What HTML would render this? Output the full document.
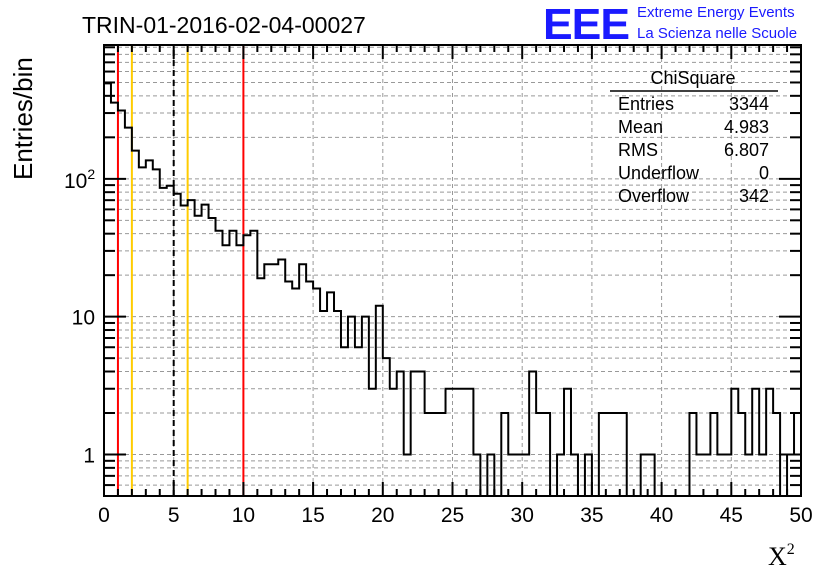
<!DOCTYPE html>
<html><head><meta charset="utf-8"><style>
body{margin:0;background:#fff;}
svg{display:block;font-family:"Liberation Sans",sans-serif;}
</style></head><body>
<svg id="chart" width="836" height="572" viewBox="0 0 836 572" xmlns="http://www.w3.org/2000/svg">
<rect x="0" y="0" width="836" height="572" fill="#fff"/>
<g id="grid"></g>
<g id="marks"></g>
<g id="hist"></g>
<g id="axes"></g>
<text x="82" y="33" font-size="23">TRIN-01-2016-02-04-00027</text>
<text x="543" y="39" font-size="44" font-weight="bold" fill="#1a1aff" letter-spacing="-1" textLength="86" lengthAdjust="spacingAndGlyphs">EEE</text>
<text x="637" y="17" font-size="15" fill="#1a1aff">Extreme Energy Events</text>
<text x="637" y="38" font-size="15" fill="#1a1aff">La Scienza nelle Scuole</text>
<text transform="translate(32,180) rotate(-90)" font-size="26">Entries/bin</text>
<text x="768" y="565" font-size="26" font-family="Liberation Serif,serif">X<tspan font-size="16" dy="-11">2</tspan></text>
<g font-size="18">
<text x="693" y="84" text-anchor="middle">ChiSquare</text>
<line x1="610" y1="91" x2="778" y2="91" stroke="#000" stroke-width="1.5"/>
<text x="618" y="110">Entries</text><text x="769" y="110" text-anchor="end">3344</text>
<text x="618" y="133">Mean</text><text x="769" y="133" text-anchor="end">4.983</text>
<text x="618" y="156">RMS</text><text x="769" y="156" text-anchor="end">6.807</text>
<text x="618" y="179">Underflow</text><text x="769" y="179" text-anchor="end">0</text>
<text x="618" y="202">Overflow</text><text x="769" y="202" text-anchor="end">342</text>
</g>
</svg>
<script>
const counts=[492,357,313,235,160,121,136,117,86,89,78,64,70,54,65,52,42,33,42,33,39,42,19,24,24,26,18,16,24,18,16,11,15,11,6,10,6,10,3,12,5,3,4,1,4,4,2,2,2,3,3,3,3,1,0,1,0,2,1,1,1,4,2,2,0,1,3,1,0,1,0,2,2,2,2,0,0,1,1,0,0,0,0,0,2,1,1,2,1,1,3,2,1,3,1,3,2,0,1,2];
const binWidth=0.5;
const xTicks=[0,5,10,15,20,25,30,35,40,45,50];
const markerX=[1,2,5,6,10];
const markerColor=["#ff0000","#ffcc00","#000","#ffcc00","#ff0000"];
const X0=104,X1=801,Y0=496,Y1=45,XMIN=0,XMAX=50,YMIN=0.5,YMAX=935;
const sx=v=>X0+(v-XMIN)/(XMAX-XMIN)*(X1-X0);
const sy=v=>Y0-(Math.log10(Math.max(v,YMIN))-Math.log10(YMIN))/(Math.log10(YMAX)-Math.log10(YMIN))*(Y0-Y1);
const NS="http://www.w3.org/2000/svg";
function mk(t,a,p){const e=document.createElementNS(NS,t);for(const k in a)e.setAttribute(k,a[k]);p.appendChild(e);return e;}
const grid=document.getElementById('grid'),axes=document.getElementById('axes');
// y grid (log decades with minors)
for(let d=0.1;d<=1000;d*=10){for(let m=1;m<=9;m++){const v=d*m;if(v<YMIN||v>YMAX)continue;const y=sy(v);
const g=mk('line',{x1:X0,x2:X1,y1:y,y2:y,stroke:'#999','stroke-dasharray':'4,3','stroke-width':1},grid);


const big=m===1;
mk('line',{x1:X0,x2:X0+(big?22:11),y1:y,y2:y,stroke:'#000','stroke-width':2},axes);
mk('line',{x1:X1,x2:X1-(big?22:11),y1:y,y2:y,stroke:'#000','stroke-width':2},axes);}}
xTicks.forEach(v=>{const x=sx(v);
if(v>XMIN&&v<XMAX){const g=mk('line',{x1:x,x2:x,y1:Y0,y2:Y1,stroke:'#999','stroke-dasharray':'4,3','stroke-width':1},grid);

}
const t=mk('text',{x:x,y:522,'font-size':21,'text-anchor':'middle'},axes);t.textContent=v;

});
for(let v=XMIN;v<=XMAX;v+=1){const x=sx(v);const L=v%5===0?14:7;
mk('line',{x1:x,x2:x,y1:Y0,y2:Y0-L,stroke:'#000','stroke-width':2},axes);
mk('line',{x1:x,x2:x,y1:Y1,y2:Y1+L,stroke:'#000','stroke-width':2},axes);}
[[1,'1'],[10,'10']].forEach(([v,s])=>{const t=mk('text',{x:95,y:sy(v)+8,'font-size':21,'text-anchor':'end'},axes);t.textContent=s;

});
{const t=mk('text',{x:64,y:sy(100)+9,'font-size':21},axes);t.innerHTML='10<tspan font-size="14" dy="-9">2</tspan>';

}
const frame=mk('rect',{x:X0,y:Y1,width:X1-X0,height:Y0-Y1,fill:'none',stroke:'#000','stroke-width':2},axes);


// markers
const marks=document.getElementById('marks');
markerX.forEach((v,i)=>{const a={x1:sx(v),x2:sx(v),y1:Y0,y2:Y1,stroke:markerColor[i],'stroke-width':2};if(markerColor[i]==='#000')a['stroke-dasharray']='6,4';
const l=mk('line',a,marks);

});
// histogram
let d='';let prevY=Y0;
counts.forEach((c,i)=>{const xa=sx(i*binWidth),xb=sx((i+1)*binWidth);const y=c>0?sy(c):Y0;
d+=(i===0?`M${xa},${y}`:`L${xa},${y}`)+`L${xb},${y}`;});
const p=mk('path',{d:d,fill:'none',stroke:'#000','stroke-width':2},document.getElementById('hist'));


</script>
</body></html>
